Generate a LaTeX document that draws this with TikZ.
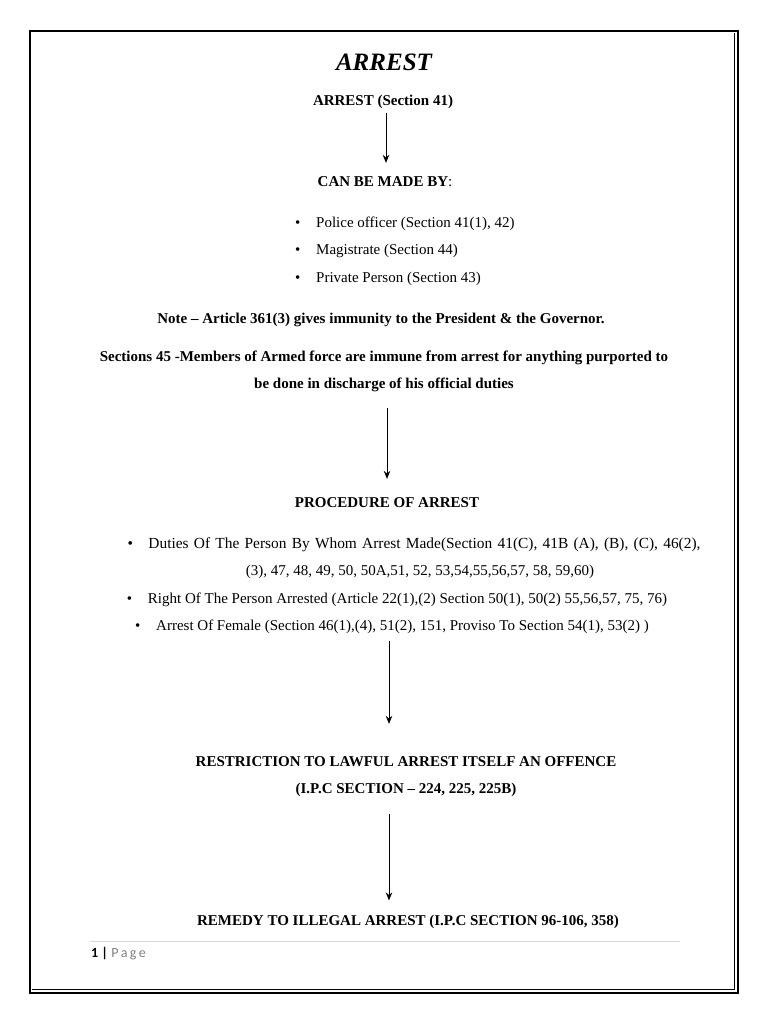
\documentclass[tikz,border=0pt]{standalone}
\usepackage{xcolor}
\usepackage{fontspec}
\usepackage{tikz}
\usetikzlibrary{arrows.meta,positioning}
\setmainfont{Liberation Serif}
\newfontfamily\footfont{Carlito}
\definecolor{pagegray}{RGB}{128,128,128}
\definecolor{rulegray}{RGB}{217,217,217}

\begin{document}
\begin{tikzpicture}[x=1pt,y=-1pt,
    txt/.style={anchor=base,inner sep=0pt,font=\fontsize{15}{27}\selectfont,align=center},
    head/.style={txt,font=\fontsize{15}{27}\selectfont\bfseries},
    flow/.style={-{Stealth[length=8pt,width=6.5pt]},line width=0.9pt}]
    \useasboundingbox (0,0) rectangle (768,1024);
    % page border
    \draw[line width=2.2pt] (30,31) rectangle (738,993);
    \draw[line width=0.8pt] (734,33) -- (734,989) -- (32,989);

    \node[txt,font=\fontsize{25}{30}\selectfont\bfseries\itshape] (title) at (384,71) {ARREST};
    \node[head] (sec41) at (383,106) {ARREST (Section 41)};
    \node[head] (madeby) at (385,187) {CAN BE MADE BY\mdseries:};
    \node[txt,anchor=base west] (police) at (295,227) {\makebox[21pt][l]{\textbullet}Police officer (Section 41(1), 42)};
    \node[txt,anchor=base west] (magis) at (295,254) {\makebox[21pt][l]{\textbullet}Magistrate (Section 44)};
    \node[txt,anchor=base west] (private) at (295,282) {\makebox[21pt][l]{\textbullet}Private Person (Section 43)};
    \node[head] (note) at (381,323) {Note -- Article 361(3) gives immunity to the President \& the Governor.};
    \node[head] (sec45) at (384,388) {Sections 45 -Members of Armed force are immune from arrest for anything purported to\\
        be done in discharge of his official duties};
    \node[head] (proc) at (387,507) {PROCEDURE OF ARREST};
    \node[txt] (duties) at (414,575) {{\fontsize{15.4}{27}\selectfont\makebox[573pt][s]{\makebox[21pt][l]{\textbullet}Duties Of The Person By Whom Arrest Made(Section 41(C), 41B (A), (B), (C), 46(2),}}\\
        \hspace{12pt}(3), 47, 48, 49, 50, 50A,51, 52, 53,54,55,56,57, 58, 59,60)};
    \node[txt] (rights) at (397,603) {\makebox[21pt][l]{\textbullet}Right Of The Person Arrested (Article 22(1),(2) Section 50(1), 50(2) 55,56,57, 75, 76)};
    \node[txt] (female) at (392,630) {\makebox[21pt][l]{\textbullet}Arrest Of Female (Section 46(1),(4), 51(2), 151, Proviso To Section 54(1), 53(2) )};
    \node[head] (restrict) at (406,793) {RESTRICTION TO LAWFUL ARREST ITSELF AN OFFENCE\\
        (I.P.C SECTION -- 224, 225, 225B)};
    \node[head] (remedy) at (408,925) {REMEDY TO ILLEGAL ARREST (I.P.C SECTION 96-106, 358)};

    % arrows
    \draw[flow,shorten <=4pt,shorten >=14pt] (sec41.south -| 386,0) -- (madeby.north -| 386,0);
    \draw[flow,shorten <=16pt,shorten >=18pt] (sec45.south -| 387,0) -- (proc.north -| 387,0);
    \draw[flow,shorten <=8pt,shorten >=32pt] (female.south -| 389,0) -- (restrict.north -| 389,0);
    \draw[flow,shorten <=18pt,shorten >=14pt] (restrict.south -| 389,0) -- (remedy.north -| 389,0);

    % footer
    \draw[rulegray,line width=0.8pt] (90,941) -- (680,941);
    \node[anchor=base west,inner sep=0pt,font=\footfont\fontsize{14}{16}\selectfont] (pagenum) at (91,957)
        {\textbf{1 |} \textcolor{pagegray}{P\,a\,g\,e}};
\end{tikzpicture}
\end{document}
